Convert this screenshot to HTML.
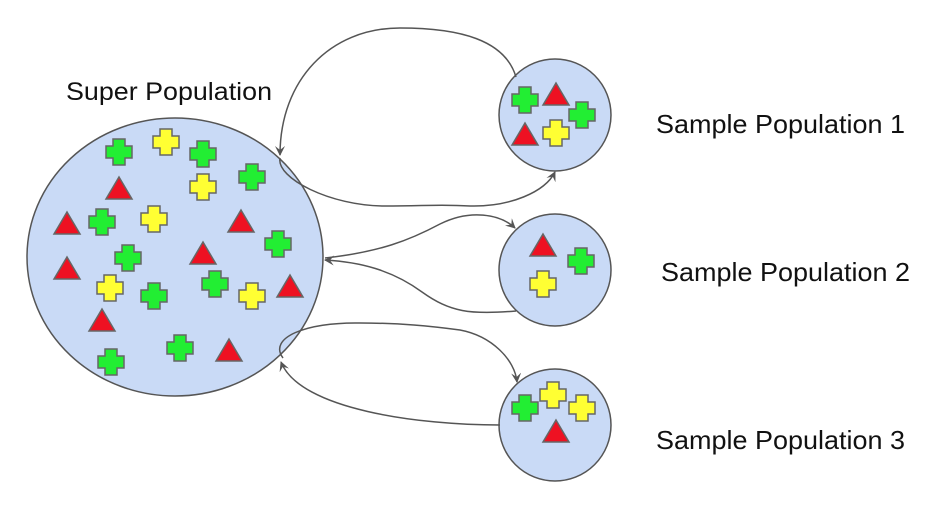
<!DOCTYPE html>
<html><head><meta charset="utf-8"><style>
html,body{margin:0;padding:0;background:#fff;width:945px;height:519px;overflow:hidden}
svg{display:block}
text{font-family:"Liberation Sans",Arial,sans-serif;fill:#111}
</style></head><body>
<svg width="945" height="519" viewBox="0 0 945 519" xmlns="http://www.w3.org/2000/svg">
<defs>
<marker id="a" markerWidth="12" markerHeight="12" refX="9" refY="5" orient="auto" markerUnits="userSpaceOnUse">
<path d="M0,0 L10,5 L0,10 L4,5 Z" fill="#555"/>
</marker>
<g id="p"><path d="M-6,-13 H6 V-6 H13 V6 H6 V13 H-6 V6 H-13 V-6 H-6 Z" stroke="#666" stroke-width="1.5"/></g>
<g id="t"><path d="M0,-12 L13,10 L-13,10 Z" fill="#ee1122" stroke="#666" stroke-width="1.5"/></g>
</defs>
<ellipse cx="175" cy="257" rx="148" ry="139" fill="#c9daf6" stroke="#555" stroke-width="1.5"/>
<circle cx="555" cy="115" r="56" fill="#c9daf6" stroke="#555" stroke-width="1.5"/>
<circle cx="555" cy="270" r="56" fill="#c9daf6" stroke="#555" stroke-width="1.5"/>
<circle cx="555" cy="425" r="56" fill="#c9daf6" stroke="#555" stroke-width="1.5"/>
<g fill="#22ee33">
<use href="#p" x="119" y="152"/><use href="#p" x="203" y="154"/><use href="#p" x="252" y="177"/>
<use href="#p" x="102" y="222"/><use href="#p" x="278" y="244"/><use href="#p" x="128" y="258"/>
<use href="#p" x="154" y="296"/><use href="#p" x="215" y="284"/><use href="#p" x="180" y="348"/>
<use href="#p" x="111" y="362"/>
<use href="#p" x="525" y="100"/><use href="#p" x="582" y="115"/>
<use href="#p" x="581" y="261"/><use href="#p" x="525" y="408"/>
</g>
<g fill="#ffff33">
<use href="#p" x="166" y="142"/><use href="#p" x="203" y="187"/><use href="#p" x="154" y="219"/>
<use href="#p" x="110" y="288"/><use href="#p" x="252" y="296"/>
<use href="#p" x="556" y="133"/><use href="#p" x="543" y="284"/>
<use href="#p" x="553" y="395"/><use href="#p" x="582" y="408"/>
</g>
<g>
<use href="#t" x="119" y="189"/><use href="#t" x="67" y="224"/><use href="#t" x="241" y="222"/>
<use href="#t" x="203" y="254"/><use href="#t" x="67" y="269"/><use href="#t" x="290" y="287"/>
<use href="#t" x="102" y="321"/><use href="#t" x="229" y="351"/>
<use href="#t" x="556" y="95"/><use href="#t" x="525" y="135"/>
<use href="#t" x="543" y="246"/><use href="#t" x="556" y="432"/>
</g>
<g fill="none" stroke="#555" stroke-width="1.5">
<path d="M516,77 C505,40 460,28 400,28 C330,28 280,80 280,155" marker-end="url(#a)"/>
<path d="M280,158 C276,178 330,206 385,206 C425,206 440,204 470,206 C510,207 545,192 555,172" marker-end="url(#a)"/>
<path d="M325,258 C380,252 410,240 440,224 C470,209 500,214 515,228" marker-end="url(#a)"/>
<path d="M516,311 C470,315 450,312 422,292 C392,270 360,262 325,260" marker-end="url(#a)"/>
<path d="M283,358 C268,338 305,322 360,323 C400,323 430,326 460,330 C492,336 515,360 517,382" marker-end="url(#a)"/>
<path d="M500,425 C420,425 300,410 281,362" marker-end="url(#a)"/>
</g>
<text x="66" y="100" font-size="25" textLength="206" lengthAdjust="spacingAndGlyphs">Super Population</text>
<text x="656" y="133" font-size="26" textLength="249" lengthAdjust="spacingAndGlyphs">Sample Population 1</text>
<text x="661" y="281" font-size="26" textLength="249" lengthAdjust="spacingAndGlyphs">Sample Population 2</text>
<text x="656" y="449" font-size="26" textLength="249" lengthAdjust="spacingAndGlyphs">Sample Population 3</text>
</svg>
</body></html>
